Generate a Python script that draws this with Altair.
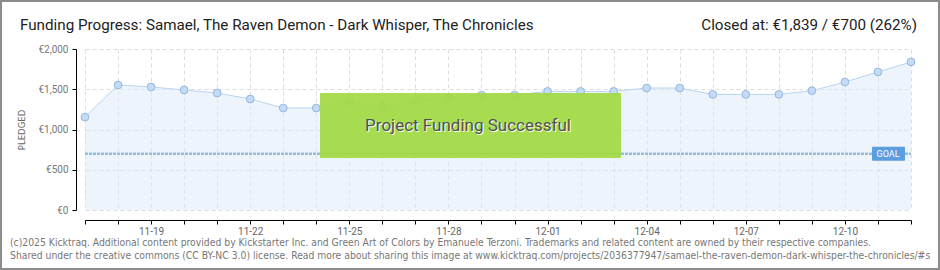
import altair as alt
import pandas as pd

dates = ["2025-11-17", "2025-11-18", "2025-11-19", "2025-11-20", "2025-11-21", "2025-11-22",
         "2025-11-23", "2025-11-24", "2025-11-25", "2025-11-26", "2025-11-27", "2025-11-28",
         "2025-11-29", "2025-11-30", "2025-12-01", "2025-12-02", "2025-12-03", "2025-12-04",
         "2025-12-05", "2025-12-06", "2025-12-07", "2025-12-08", "2025-12-09", "2025-12-10",
         "2025-12-11", "2025-12-12"]
pledged = [1154, 1553, 1528, 1491, 1453, 1379, 1267, 1267, 1350, 1280, 1360, 1395,
           1428, 1428, 1473, 1473, 1473, 1515, 1515, 1436, 1436, 1436, 1482, 1590,
           1715, 1839]
x_tick_labels = ["11-19", "11-22", "11-25", "11-28", "12-01", "12-04", "12-07", "12-10"]
y_ticks = [0, 250, 500, 750, 1000, 1250, 1500, 1750, 2000]
goal = 700

title_text = "Funding Progress: Samael, The Raven Demon - Dark Whisper, The Chronicles"
closed_text = "Closed at:  €1,839 /  €700 (262%)"
footer1 = ("(c)2025 Kicktraq. Additional content provided by Kickstarter Inc. and Green Art of Colors "
           "by Emanuele Terzoni. Trademarks and related content are owned by their respective companies.")
footer2 = ("Shared under the creative commons (CC BY-NC 3.0) license. Read more about sharing this image at "
           "www.kicktraq.com/projects/2036377947/samael-the-raven-demon-dark-whisper-the-chronicles/#s")

df = pd.DataFrame({"date": dates, "pledged": pledged})
day_values = [int(pd.Timestamp(d, tz="UTC").value // 10**6) for d in dates]

TITLE_FONT = "Roboto"
SMALL_FONT = "DejaVu Sans Condensed"

label_list = "[" + ",".join("'" + l + "'" for l in x_tick_labels) + "]"

x_enc = alt.X(
    "date:T",
    scale=alt.Scale(type="utc", domain=[day_values[0], day_values[-1]], nice=False),
    axis=alt.Axis(
        values=day_values,
        labelExpr=f"indexof({label_list}, utcFormat(datum.value, '%m-%d')) >= 0 ? utcFormat(datum.value, '%m-%d') : ''",
        offset=10, tickSize=4, tickColor="#000", domainColor="#000",
        gridColor="#dddddd", gridDash=[4, 3], labelColor="#666666", labelFontSize=10,
        labelFont=TITLE_FONT, labelOverlap=False, labelFlush=False, labelPadding=2, title=None,
    ),
)
y_enc = alt.Y(
    "pledged:Q",
    scale=alt.Scale(domain=[0, 2000], nice=False),
    axis=alt.Axis(
        values=y_ticks,
        labelExpr="datum.value % 500 == 0 ? '€' + format(datum.value, ',') : ''",
        tickColor={"condition": {"test": "datum.value % 500 != 0", "value": "#e00000"}, "value": "#000000"},
        gridOpacity={"condition": {"test": "datum.value % 500 != 0", "value": 0}, "value": 1},
        offset=9, tickSize=4, domainColor="#000", gridColor="#dddddd", gridDash=[4, 3],
        labelColor="#777777", labelFontSize=10, labelFont=TITLE_FONT, labelPadding=4, title=None,
        labelOverlap=False,
    ),
)

base = alt.Chart(df)
area = base.mark_area(color="#dbe9fa", opacity=0.5).encode(x=x_enc, y=y_enc)
line = base.mark_line(color="#b7d4f2", strokeWidth=1).encode(x=x_enc, y=y_enc)
points = base.mark_point(filled=True, fill="#c3dbf5", stroke="#93b7e0", strokeWidth=1,
                         size=60, opacity=1).encode(x=x_enc, y=y_enc)

one = pd.DataFrame({"k": [0]})
goal_df = pd.DataFrame({"goal": [goal]})

goal_line = alt.Chart(goal_df).mark_rule(color="#93bbe8", strokeWidth=2.5, strokeDash=[3, 1]).encode(
    y=alt.Y("goal:Q", scale=alt.Scale(domain=[0, 2000], nice=False)), x=alt.value(0), x2=alt.value(826))
goal_box = alt.Chart(goal_df).mark_rect(color="#5b9ddf", yOffset=-7, y2Offset=7, cornerRadius=1).encode(
    y="goal:Q", y2="goal:Q", x=alt.value(787), x2=alt.value(820))
goal_text = alt.Chart(goal_df).mark_text(text="GOAL", color="white", fontSize=9, font=TITLE_FONT,
                                         align="center", baseline="middle").encode(
    y="goal:Q", x=alt.value(803))

green = alt.Chart(one).mark_rect(color="#a2d941", opacity=0.92).encode(
    x=alt.value(235), x2=alt.value(536), y=alt.value(44), y2=alt.value(109))
succ_shadow = alt.Chart(one).mark_text(text="Project Funding Successful", color="white", fontSize=17,
                                       font=TITLE_FONT, align="center", baseline="middle").encode(
    x=alt.value(384), y=alt.value(78))
succ_text = alt.Chart(one).mark_text(text="Project Funding Successful", color="#505050", fontSize=17,
                                     font=TITLE_FONT, align="center", baseline="middle").encode(
    x=alt.value(383), y=alt.value(77))

ylabel = alt.Chart(one).mark_text(text="PLEDGED", color="#666666", fontSize=9.5, font=SMALL_FONT,
                                  angle=270, align="center", baseline="middle").encode(
    x=alt.value(-63), y=alt.value(81))

title = alt.Chart(one).mark_text(text=title_text, color="#222222", fontSize=15.2, font=TITLE_FONT,
                                 align="left", baseline="alphabetic").encode(
    x=alt.value(-65), y=alt.value(-19))
closed = alt.Chart(one).mark_text(text=closed_text, color="#222222", fontSize=15.2, font=TITLE_FONT,
                                  align="right", baseline="alphabetic").encode(
    x=alt.value(832), y=alt.value(-19))
f1 = alt.Chart(one).mark_text(text=footer1, color="#777777", fontSize=10.3, font=SMALL_FONT,
                              align="left", baseline="middle").encode(x=alt.value(-75), y=alt.value(194))
f2 = alt.Chart(one).mark_text(text=footer2, color="#777777", fontSize=10.3, font=SMALL_FONT,
                              align="left", baseline="middle").encode(x=alt.value(-75), y=alt.value(207))
border = alt.Chart(one).mark_rect(fill=None, stroke="#8c8c8c", strokeWidth=2).encode(
    x=alt.value(-84), x2=alt.value(854), y=alt.value(-48), y2=alt.value(220))

chart = alt.layer(
    area, line, points, goal_line, green, succ_shadow, succ_text, goal_box, goal_text,
    ylabel, title, closed, f1, f2, border
).properties(
    width=826, height=161,
    autosize=alt.AutoSizeParams(type="none"),
    padding={"left": 85, "top": 49, "right": 29, "bottom": 60},
    background="white",
).configure_view(stroke=None).configure_axis(labelOverlap=False)

chart.save("out.html", embed_options={"renderer": "svg", "actions": False})
